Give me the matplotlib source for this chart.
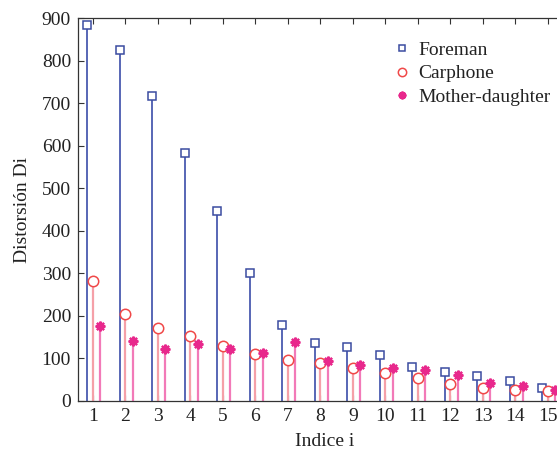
import numpy as np
import matplotlib
matplotlib.use("Agg")
import matplotlib.pyplot as plt

plt.rcParams['font.family'] = ['Liberation Serif', 'DejaVu Serif']

indices = list(range(1, 16))
foreman = [883, 825, 717, 583, 446, 301, 178, 136, 127, 108, 80, 68, 59, 47, 30]
carphone = [282, 204, 171, 153, 129, 110, 96, 89, 78, 66, 54, 40, 31, 26, 23]
mother_daughter = [176, 141, 122, 134, 122, 113, 139, 94, 85, 78, 73, 61, 42, 35, 26]

fig = plt.figure(figsize=(5.57, 4.53), dpi=100)
ax = fig.add_axes([0.140, 0.1148, 0.8846, 0.8452])

x = np.array(indices, dtype=float)
xf = x - 0.18
xc = x
xm = x + 0.22

blue = '#3b4ca0'
red = '#f04848'
magenta = '#e8288c'

ax.vlines(xf, 0, foreman, colors='#4a5bb0', lw=1.3, zorder=2)
ax.vlines(xc, 0, carphone, colors='#f5a0a8', lw=1.6, zorder=2)
ax.vlines(xm, 0, mother_daughter, colors='#f27ab8', lw=1.6, zorder=2)

ax.plot(xf, foreman, ls='none', marker='s', ms=5.5, mfc='white', mec=blue,
        mew=1.1, label='Foreman', zorder=3)
ax.plot(xc, carphone, ls='none', marker='o', ms=7.5, mfc='white', mec=red,
        mew=1.1, label='Carphone', zorder=3)
ax.plot(xm, mother_daughter, ls='none', marker=(8, 2, 0), ms=7, mfc=magenta,
        mec=magenta, mew=1.6, label='Mother-daughter', zorder=3)

ax.set_xlim(0.54, 15.7)
ax.set_ylim(0, 900)
ax.set_xticks(indices)
ax.set_yticks(range(0, 901, 100))
ax.tick_params(direction='in', top=True, right=True, length=4, width=0.8,
               labelsize=14, colors='#333333', labelcolor='#222222', pad=5)
for s in ax.spines.values():
    s.set_color('#333333')
    s.set_linewidth(0.9)

ax.set_xlabel('Indice i', fontsize=14, color='#222222', labelpad=6)
ax.set_ylabel('Distorsión Di', fontsize=14, color='#222222', labelpad=8)

leg = ax.legend(loc='upper right', bbox_to_anchor=(0.995, 0.985), frameon=False,
                fontsize=14, handlelength=0.8, handletextpad=0.45,
                labelspacing=0.3, markerscale=0.8)
for t in leg.get_texts():
    t.set_color('#222222')

fig.savefig('out.png', dpi=100)
